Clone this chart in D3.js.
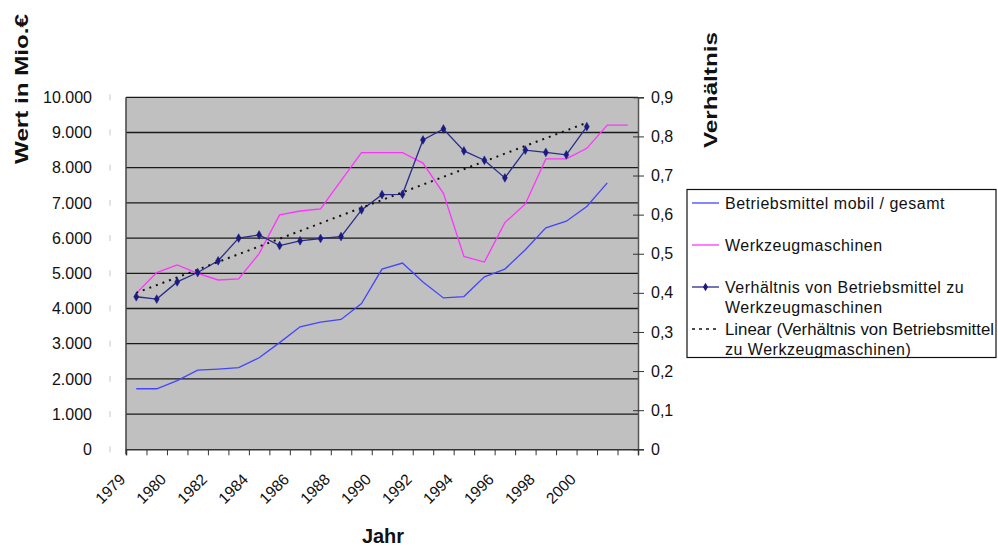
<!DOCTYPE html>
<html>
<head>
<meta charset="utf-8">
<script src="https://cdn.jsdelivr.net/npm/d3@7"></script>
<style>
  body { margin: 0; background: #fff; }
  svg { display: block; font-family: "Liberation Sans", Arial, sans-serif; }
</style>
</head>
<body>
<svg id="chart" width="998" height="546"></svg>
<script>
// ---- data ----
const categories = ["1979","","1980","","1982","","1984","","1986","","1988","","1990","","1992","","1994","","1996","","1998","","2000","",""];
const betriebsmittel = [1720,1720,1950,2250,2280,2320,2600,3030,3480,3610,3690,4140,5120,5290,4750,4300,4340,4900,5120,5670,6290,6480,6900,7570];
const werkzeugmaschinen = [4430,5020,5240,5000,4810,4840,5560,6660,6770,6830,7630,8430,8430,8430,8130,7270,5480,5320,6440,6970,8250,8250,8550,9210,9210];
const verhaeltnis = [0.390,0.384,0.428,0.452,0.482,0.540,0.548,0.521,0.533,0.539,0.544,0.612,0.651,0.652,0.791,0.819,0.763,0.739,0.694,0.765,0.759,0.753,0.825];
const trendIndex = [0, 22];
const trendValues = [0.400, 0.835];
const leftTicks = [0,1000,2000,3000,4000,5000,6000,7000,8000,9000,10000];
const rightTicks = [0,0.1,0.2,0.3,0.4,0.5,0.6,0.7,0.8,0.9];
const legendItems = [
  {lines:["Betriebsmittel mobil / gesamt"], key:"b"},
  {lines:["Werkzeugmaschinen"], key:"w"},
  {lines:["Verhältnis von Betriebsmittel zu","Werkzeugmaschinen"], key:"v"},
  {lines:["Linear (Verhältnis von Betriebsmittel","zu Werkzeugmaschinen)"], key:"t"}
];

// ---- layout ----
const L = 126, R = 638, T = 97.3, B = 449.3;
const colB = "#4444ff", colW = "#ff33ff", colV = "#1a1a80";

const svg = d3.select("#chart");
const de = d3.formatLocale({decimal:",", thousands:".", grouping:[3], currency:["","€"]});
const fmtL = de.format(",d");
const fmtR = v => v === 0 ? "0" : de.format(".1f")(v);

const x = d3.scaleBand().domain(d3.range(categories.length)).range([L, R]).padding(0);
const xb = d3.scaleLinear().domain([0, categories.length]).range([L, R]);
const y = d3.scaleLinear().domain([0, 10000]).range([B, T]);
const yr = d3.scaleLinear().domain([0, 0.9]).range([B, T]);
const cx = i => x(i) + x.bandwidth() / 2;

// plot background
svg.append("rect").attr("x", L).attr("y", T).attr("width", R - L).attr("height", B - T)
  .attr("fill", "#c0c0c0");

// gridlines
svg.append("g").selectAll("line").data(leftTicks.filter(v => v > 0)).join("line")
  .attr("x1", L).attr("x2", R).attr("y1", d => y(d)).attr("y2", d => y(d))
  .attr("stroke", "#1a1a1a").attr("stroke-width", 1.3);

// left axis labels
const gl = svg.append("g").attr("transform", `translate(${L},0)`)
  .call(d3.axisLeft(y).tickValues(leftTicks).tickFormat(fmtL).tickSize(0).tickPadding(34));
gl.select(".domain").remove();
gl.selectAll("text").attr("font-size", 16).attr("fill", "#111").attr("font-family", "Liberation Sans, Arial, sans-serif");
// faint detached tick marks
svg.append("g").selectAll("line").data(leftTicks).join("line")
  .attr("x1", 110).attr("x2", 110).attr("y1", d => y(d) - 3).attr("y2", d => y(d) + 3)
  .attr("stroke", "#c8c8c8").attr("stroke-width", 1);

// left axis line
svg.append("line").attr("x1", L).attr("x2", L).attr("y1", T).attr("y2", B + 5)
  .attr("stroke", "#444").attr("stroke-width", 1.5);

// right axis
const gr = svg.append("g").attr("transform", `translate(${R},0)`)
  .call(d3.axisRight(yr).tickValues(rightTicks).tickFormat(fmtR).tickSize(6).tickPadding(7));
gr.select(".domain").attr("stroke", "#555").attr("stroke-width", 1.5);
gr.selectAll(".tick line").attr("x1", -5).attr("stroke", "#333");
gr.selectAll("text").attr("font-size", 16).attr("fill", "#111").attr("font-family", "Liberation Sans, Arial, sans-serif");

// bottom axis: boundary ticks
const gb = svg.append("g").attr("transform", `translate(0,${B})`)
  .call(d3.axisBottom(xb).tickValues(d3.range(categories.length + 1)).tickFormat("").tickSize(6));
gb.select(".domain").attr("stroke", "#333").attr("stroke-width", 1.5);
gb.selectAll(".tick line").attr("stroke", "#333");

// bottom axis labels
const labelIdx = d3.range(categories.length).filter(i => categories[i] !== "");
const gx = svg.append("g").attr("transform", `translate(0,${B})`)
  .call(d3.axisBottom(x).tickValues(labelIdx).tickFormat(i => categories[i]).tickSize(0));
gx.select(".domain").remove();
gx.selectAll("text")
  .attr("y", 0).attr("dy", 0)
  .attr("text-anchor", "end")
  .attr("transform", "translate(-10,31) rotate(-45)")
  .attr("font-size", 15.5).attr("fill", "#111").attr("font-family", "Liberation Sans, Arial, sans-serif");

// series lines
const lineL = d3.line().x((d, i) => cx(i)).y(d => y(d));
const lineR = d3.line().x((d, i) => cx(i)).y(d => yr(d));

svg.append("path").datum(betriebsmittel).attr("d", lineL)
  .attr("fill", "none").attr("stroke", colB).attr("stroke-width", 1.3);
svg.append("path").datum(werkzeugmaschinen).attr("d", lineL)
  .attr("fill", "none").attr("stroke", colW).attr("stroke-width", 1.3);
svg.append("path").datum(verhaeltnis).attr("d", lineR)
  .attr("fill", "none").attr("stroke", "#2b2b8c").attr("stroke-width", 1.3);

// trend line
svg.append("line")
  .attr("x1", cx(trendIndex[0])).attr("y1", yr(trendValues[0]))
  .attr("x2", cx(trendIndex[1])).attr("y2", yr(trendValues[1]))
  .attr("stroke", "#111").attr("stroke-width", 2).attr("stroke-dasharray", "2,5");

// markers (diamonds)
const diamond = d3.symbol().type(d3.symbolDiamond).size(22);
svg.append("g").selectAll("path").data(verhaeltnis).join("path")
  .attr("d", diamond)
  .attr("transform", (d, i) => `translate(${cx(i)},${yr(d)})`)
  .attr("fill", colV).attr("stroke", colV).attr("stroke-width", 0.5);

// axis titles
svg.append("text").attr("transform", "translate(28,89) rotate(-90)")
  .attr("text-anchor", "middle").attr("font-size", 19).attr("font-weight", "bold")
  .attr("textLength", 150).attr("lengthAdjust", "spacingAndGlyphs")
  .attr("fill", "#111").text("Wert in Mio.€");
svg.append("text").attr("transform", "translate(717,90) rotate(-90)")
  .attr("text-anchor", "middle").attr("font-size", 19).attr("font-weight", "bold")
  .attr("textLength", 116).attr("lengthAdjust", "spacingAndGlyphs")
  .attr("fill", "#111").text("Verhältnis");
svg.append("text").attr("x", 383).attr("y", 543)
  .attr("text-anchor", "middle").attr("font-size", 20).attr("font-weight", "bold")
  .attr("fill", "#111").text("Jahr");

// legend
const lg = svg.append("g");
lg.append("rect").attr("x", 687).attr("y", 189.5).attr("width", 309).attr("height", 168)
  .attr("fill", "#fff").attr("stroke", "#111").attr("stroke-width", 1.2);
const rowY = [203, 245, 287, 329];
legendItems.forEach((it, k) => {
  const yy = rowY[k];
  const sx1 = 692, sx2 = 719;
  const ln = lg.append("line").attr("x1", sx1).attr("x2", sx2).attr("y1", yy).attr("y2", yy)
    .attr("stroke-width", 1.3);
  if (it.key === "b") ln.attr("stroke", colB);
  if (it.key === "w") ln.attr("stroke", colW);
  if (it.key === "v") {
    ln.attr("stroke", "#2b2b8c");
    lg.append("path").attr("d", diamond).attr("transform", `translate(${(sx1 + sx2) / 2},${yy})`)
      .attr("fill", colV);
  }
  if (it.key === "t") ln.attr("stroke", "#111").attr("stroke-width", 1.5).attr("stroke-dasharray", "3,4");
  it.lines.forEach((t, j) => {
    const tx = lg.append("text").attr("x", 725).attr("y", yy + 6 + j * 19.5)
      .attr("font-size", 16).attr("letter-spacing", 0.5).attr("fill", "#111").text(t);
    const w = tx.node().getComputedTextLength();
    if (725 + w > 994) {
      tx.attr("letter-spacing", 0).attr("textLength", 994 - 725).attr("lengthAdjust", "spacingAndGlyphs");
    }
  });
});
</script>
</body>
</html>
